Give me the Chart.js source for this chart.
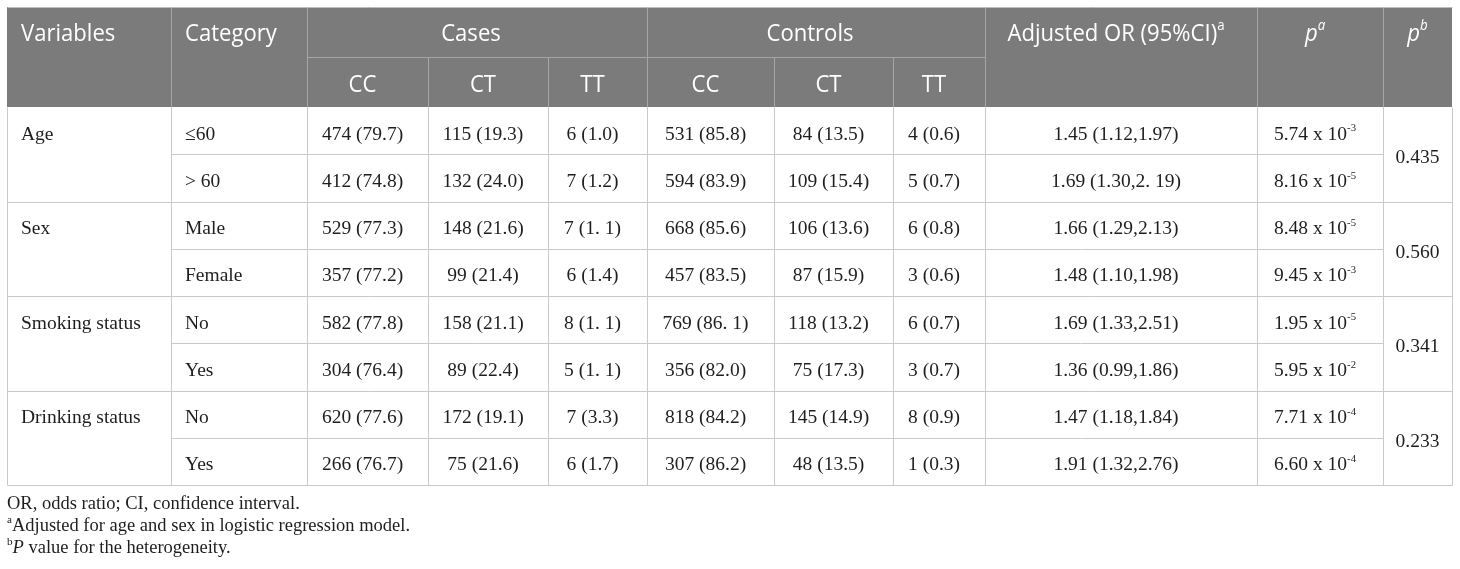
<!DOCTYPE html>
<html>
<head>
<meta charset="utf-8">
<title>Genotype table</title>
<script src="https://cdn.jsdelivr.net/npm/chart.js@4.4.0/dist/chart.umd.min.js"></script>
<style>
    body { margin: 0; background: #fff; }
    #wrap { width: 1460px; height: 569px; position: relative; }
</style>
</head>
<body>
<div id="wrap"><canvas id="tableChart"></canvas></div>
<script>
// table content
const groupHeaders = ['Variables', 'Category', 'Cases', 'Controls', 'Adjusted OR (95%CI)^{a}', '{i:p}^{i:a}', '{i:p}^{i:b}'];
const genotypes = ['CC', 'CT', 'TT'];
const variables = ['Age', 'Sex', 'Smoking status', 'Drinking status'];
const categories = ['≤60', '> 60', 'Male', 'Female', 'No', 'Yes', 'No', 'Yes'];
const casesCC = ['474 (79.7)', '412 (74.8)', '529 (77.3)', '357 (77.2)', '582 (77.8)', '304 (76.4)', '620 (77.6)', '266 (76.7)'];
const casesCT = ['115 (19.3)', '132 (24.0)', '148 (21.6)', '99 (21.4)', '158 (21.1)', '89 (22.4)', '172 (19.1)', '75 (21.6)'];
const casesTT = ['6 (1.0)', '7 (1.2)', '7 (1. 1)', '6 (1.4)', '8 (1. 1)', '5 (1. 1)', '7 (3.3)', '6 (1.7)'];
const controlsCC = ['531 (85.8)', '594 (83.9)', '668 (85.6)', '457 (83.5)', '769 (86. 1)', '356 (82.0)', '818 (84.2)', '307 (86.2)'];
const controlsCT = ['84 (13.5)', '109 (15.4)', '106 (13.6)', '87 (15.9)', '118 (13.2)', '75 (17.3)', '145 (14.9)', '48 (13.5)'];
const controlsTT = ['4 (0.6)', '5 (0.7)', '6 (0.8)', '3 (0.6)', '6 (0.7)', '3 (0.7)', '8 (0.9)', '1 (0.3)'];
const adjustedOR = ['1.45 (1.12,1.97)', '1.69 (1.30,2. 19)', '1.66 (1.29,2.13)', '1.48 (1.10,1.98)', '1.69 (1.33,2.51)', '1.36 (0.99,1.86)', '1.47 (1.18,1.84)', '1.91 (1.32,2.76)'];
const pA = ['5.74', '8.16', '8.48', '9.45', '1.95', '5.95', '7.71', '6.60'];
const pAExp = ['-3', '-5', '-5', '-3', '-5', '-2', '-4', '-4'];
const pB = ['0.435', '0.560', '0.341', '0.233'];
const footnotes = [
    'OR, odds ratio; CI, confidence interval.',
    '^{a}Adjusted for age and sex in logistic regression model.',
    '^{b}{i:P} value for the heterogeneity.'
];

// layout (in canvas units)
const colEdges = [7, 171, 307, 428, 548, 647, 774, 893, 985, 1257, 1383, 1452];
const headTop = 7, headMid = 57, bodyTop = 107, rowH = 47.25;
const noteBase = 509, noteStep = 22;

const headFont = '"Open Sans", "Noto Sans", sans-serif';
const bodyFont = '"Liberation Serif", "DejaVu Serif", serif';

const colCenter = (c) => (colEdges[c] + colEdges[c + 1]) / 2 - (c < 10 ? 5 : 0);
const rowCenter = (r) => bodyTop + rowH * (r + 0.5);
const groupCenter = (g) => bodyTop + rowH * (2 * g + 1);

function cells(labels, xFn, yFn) {
    return labels.map((label, i) => ({ x: xFn(i), y: yFn(i), label: label }));
}

function parseRich(s) {
    const segs = [];
    const re = /\^\{([^}]*)\}|\{i:([^}]*)\}|([^\^{]+)/g;
    let m;
    while ((m = re.exec(s)) !== null) {
        if (m[1] !== undefined) {
            const it = m[1].startsWith('i:');
            segs.push({ t: it ? m[1].slice(2) : m[1], sup: true, italic: it });
        } else if (m[2] !== undefined) {
            segs.push({ t: m[2], italic: true });
        } else {
            segs.push({ t: m[3] });
        }
    }
    return segs;
}

function drawRich(ctx, s, x, y, st) {
    const segs = parseRich(s);
    const hs = st.hScale || 1;
    const fontOf = (seg) => (seg.italic ? 'italic ' : '') + (seg.sup ? st.size * st.supScale : st.size) + 'px ' + st.family;
    let total = 0;
    segs.forEach((seg) => {
        ctx.font = fontOf(seg);
        seg.w = ctx.measureText(seg.t).width;
        total += seg.w;
    });
    ctx.save();
    ctx.translate(st.align === 'center' ? x - total * hs / 2 : x, y + st.dy);
    ctx.scale(hs, 1);
    ctx.fillStyle = st.color;
    ctx.textAlign = 'left';
    ctx.textBaseline = 'alphabetic';
    let cx = 0;
    segs.forEach((seg) => {
        ctx.font = fontOf(seg);
        ctx.fillText(seg.t, cx, seg.sup ? -st.size * st.supRise : 0);
        cx += seg.w;
    });
    ctx.restore();
}

const headStyle = { family: headFont, size: 24, hScale: 0.92, color: '#ffffff', align: 'center', dy: 9, supScale: 0.6, supRise: 0.45 };
const bodyStyle = { family: bodyFont, size: 19.5, color: '#1e1e1e', align: 'center', dy: 9, supScale: 0.55, supRise: 0.42 };
const noteStyle = { family: bodyFont, size: 18.5, color: '#1e1e1e', align: 'left', dy: 0, supScale: 0.6, supRise: 0.42 };

const headRow1 = (headTop + headMid) / 2;
const datasets = [
    { label: 'groups', data: [
        { x: colEdges[0] + 14, y: headRow1, label: groupHeaders[0] },
        { x: colEdges[1] + 14, y: headRow1, label: groupHeaders[1] },
        { x: (colEdges[2] + colEdges[5]) / 2 - 6, y: headRow1, label: groupHeaders[2] },
        { x: (colEdges[5] + colEdges[8]) / 2 - 6, y: headRow1, label: groupHeaders[3] },
        { x: colCenter(8), y: headRow1, label: groupHeaders[4] },
        { x: colCenter(9), y: headRow1, label: groupHeaders[5] },
        { x: colCenter(10), y: headRow1, label: groupHeaders[6] }
    ], style: headStyle, leftFirst: 2 },
    { label: 'genotypes', data: cells(genotypes.concat(genotypes), (i) => colCenter(2 + i), () => (headMid + bodyTop) / 2), style: { ...headStyle, dy: 10 } },
    { label: 'variables', data: cells(variables, () => colEdges[0] + 14, (i) => rowCenter(2 * i)), style: { ...bodyStyle, align: 'left' } },
    { label: 'categories', data: cells(categories, () => colEdges[1] + 14, rowCenter), style: { ...bodyStyle, align: 'left' } },
    { label: 'casesCC', data: cells(casesCC, () => colCenter(2), rowCenter), style: bodyStyle },
    { label: 'casesCT', data: cells(casesCT, () => colCenter(3), rowCenter), style: bodyStyle },
    { label: 'casesTT', data: cells(casesTT, () => colCenter(4), rowCenter), style: bodyStyle },
    { label: 'controlsCC', data: cells(controlsCC, () => colCenter(5), rowCenter), style: bodyStyle },
    { label: 'controlsCT', data: cells(controlsCT, () => colCenter(6), rowCenter), style: bodyStyle },
    { label: 'controlsTT', data: cells(controlsTT, () => colCenter(7), rowCenter), style: bodyStyle },
    { label: 'adjustedOR', data: cells(adjustedOR, () => colCenter(8), rowCenter), style: bodyStyle },
    { label: 'pA', data: cells(pA.map((v, i) => v + ' x 10^{' + pAExp[i] + '}'), () => colCenter(9), rowCenter), style: bodyStyle },
    { label: 'pB', data: cells(pB, () => colCenter(10), groupCenter), style: bodyStyle },
    { label: 'notes', data: cells(footnotes, () => colEdges[0], (i) => noteBase + noteStep * i), style: noteStyle }
].map((ds) => ({ ...ds, pointRadius: 0, pointHoverRadius: 0, showLine: false }));

const tableGrid = {
    id: 'tableGrid',
    beforeDatasetsDraw(chart) {
        const { ctx, scales: { x, y } } = chart;
        const X = (v) => x.getPixelForValue(v);
        const Y = (v) => y.getPixelForValue(v);
        const left = colEdges[0], right = colEdges[colEdges.length - 1];
        const bottom = bodyTop + rowH * categories.length;
        const line = (x1, y1, x2, y2, color) => {
            ctx.strokeStyle = color;
            ctx.beginPath();
            ctx.moveTo(Math.round(X(x1)) + 0.5, Math.round(Y(y1)) + 0.5);
            ctx.lineTo(Math.round(X(x2)) + 0.5, Math.round(Y(y2)) + 0.5);
            ctx.stroke();
        };
        ctx.save();
        ctx.lineWidth = 1;
        // header band
        ctx.fillStyle = '#7b7b7b';
        ctx.fillRect(X(left), Y(headTop), X(right) - X(left), Y(bodyTop) - Y(headTop));
        line(left, headTop, right, headTop, '#bdbdbd');
        const headColor = '#a6a6a6';
        [1, 2, 5, 8, 9, 10].forEach((c) => line(colEdges[c], headTop, colEdges[c], bodyTop, headColor));
        [3, 4, 6, 7].forEach((c) => line(colEdges[c], headMid, colEdges[c], bodyTop, headColor));
        line(colEdges[2], headMid, colEdges[8], headMid, headColor);
        // body grid
        const gridColor = '#c9c9c9';
        colEdges.forEach((e) => line(e, bodyTop, e, bottom, gridColor));
        for (let r = 1; r < categories.length; r++) {
            const yy = bodyTop + rowH * r;
            if (r % 2 === 0) {
                line(left, yy, right, yy, gridColor);
            } else {
                line(colEdges[1], yy, colEdges[10], yy, gridColor);
            }
        }
        line(left, bottom, right, bottom, gridColor);
        ctx.restore();
    },
    afterDatasetsDraw(chart) {
        const { ctx } = chart;
        chart.data.datasets.forEach((ds, i) => {
            const meta = chart.getDatasetMeta(i);
            meta.data.forEach((pt, j) => {
                let st = ds.style;
                if (ds.leftFirst && j < ds.leftFirst) st = { ...st, align: 'left' };
                drawRich(ctx, ds.data[j].label, pt.x, pt.y, st);
            });
        });
    }
};

new Chart(document.getElementById('tableChart').getContext('2d'), {
    type: 'scatter',
    data: { datasets: datasets },
    options: {
        responsive: true,
        maintainAspectRatio: false,
        animation: false,
        events: [],
        layout: { padding: 0 },
        plugins: { legend: { display: false }, tooltip: { enabled: false } },
        scales: {
            x: { type: 'linear', min: 0, max: 1460, display: false },
            y: { type: 'linear', min: 0, max: 569, reverse: true, display: false }
        }
    },
    plugins: [tableGrid]
});
</script>
</body>
</html>
